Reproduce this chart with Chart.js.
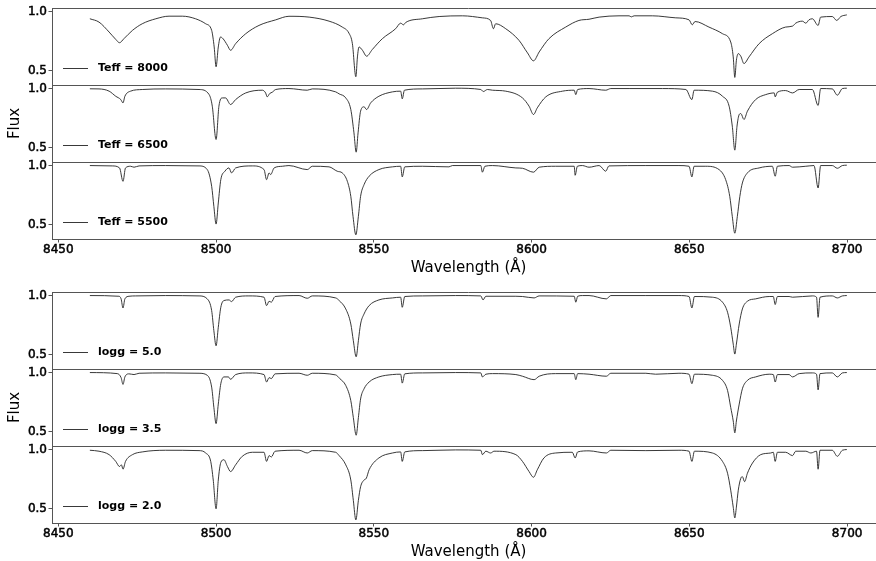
<!DOCTYPE html>
<html>
<head>
<meta charset="utf-8">
<script src="https://cdn.jsdelivr.net/npm/chart.js@4/dist/chart.umd.min.js"></script>
<style>
  html, body { margin: 0; padding: 0; background: #fff; overflow: hidden; width: 876px; height: 561px; }
  #fig { position: relative; width: 876px; height: 561px; overflow: hidden; }
  #fig canvas { position: absolute; left: 0; }
</style>
</head>
<body>
<div id="fig"></div>
<script>
// ---- Spectra: [wavelength (Å), normalised flux] ----
const teff8000 = [[8460.0,0.939],[8462.9,0.911],[8466.1,0.827],[8468.2,0.765],[8469.4,0.737],[8470.8,0.771],[8473.5,0.841],[8476.6,0.897],[8480.9,0.939],[8485.1,0.961],[8489.3,0.961],[8493.5,0.939],[8496.7,0.897],[8498.6,0.841],[8499.4,0.701],[8500.0,0.534],[8500.7,0.701],[8501.4,0.785],[8502.2,0.771],[8503.6,0.715],[8504.6,0.673],[8506.2,0.729],[8509.4,0.813],[8513.6,0.883],[8518.9,0.930],[8523.1,0.960],[8529.5,0.953],[8535.8,0.919],[8540.0,0.869],[8542.1,0.818],[8543.2,0.729],[8544.3,0.450],[8544.8,0.617],[8545.3,0.701],[8546.4,0.673],[8547.7,0.623],[8549.5,0.679],[8552.7,0.771],[8556.9,0.855],[8558.5,0.902],[8559.4,0.888],[8560.1,0.908],[8565.4,0.939],[8570.7,0.958],[8578.1,0.964],[8584.4,0.947],[8587.0,0.925],[8587.9,0.855],[8588.6,0.897],[8591.8,0.855],[8596.0,0.757],[8598.7,0.651],[8600.6,0.584],[8602.4,0.659],[8605.5,0.771],[8610.8,0.869],[8615.0,0.925],[8618.2,0.935],[8621.4,0.953],[8627.7,0.964],[8630.9,0.964],[8631.6,0.955],[8632.5,0.964],[8638.3,0.964],[8645.7,0.947],[8649.9,0.930],[8650.9,0.888],[8651.8,0.916],[8656.2,0.869],[8660.5,0.813],[8663.1,0.743],[8663.9,0.617],[8664.4,0.444],[8664.9,0.589],[8665.5,0.645],[8666.3,0.623],[8667.3,0.561],[8668.9,0.617],[8672.1,0.729],[8676.3,0.813],[8680.5,0.869],[8682.7,0.877],[8683.7,0.902],[8685.8,0.919],[8686.9,0.902],[8687.9,0.930],[8689.0,0.939],[8690.8,0.883],[8691.6,0.953],[8695.3,0.958],[8696.7,0.925],[8698.0,0.958],[8699.9,0.972]];

const teff6500 = [[8460.0,0.998],[8462.9,0.997],[8466.1,0.978],[8468.2,0.935],[8469.8,0.907],[8470.5,0.879],[8471.1,0.935],[8472.9,0.978],[8476.6,0.992],[8484.0,0.997],[8494.6,0.992],[8497.8,0.949],[8498.8,0.851],[8500.0,0.570],[8500.9,0.851],[8502.0,0.921],[8503.0,0.921],[8504.6,0.865],[8506.2,0.907],[8509.4,0.963],[8514.7,0.986],[8515.7,0.963],[8516.2,0.930],[8517.0,0.958],[8517.8,0.969],[8518.9,0.992],[8523.1,1.000],[8528.9,0.986],[8530.5,0.997],[8537.9,0.972],[8539.0,0.955],[8541.1,0.921],[8542.7,0.823],[8543.7,0.626],[8544.4,0.463],[8545.0,0.626],[8545.8,0.809],[8546.9,0.846],[8547.7,0.823],[8549.0,0.879],[8551.6,0.935],[8555.9,0.972],[8558.5,0.978],[8559.0,0.913],[8559.7,0.986],[8565.4,0.997],[8575.9,1.003],[8583.9,0.992],[8584.7,0.975],[8586.0,0.992],[8587.6,0.986],[8591.8,0.978],[8597.1,0.921],[8599.2,0.851],[8600.6,0.781],[8601.8,0.837],[8604.5,0.930],[8609.8,0.978],[8613.5,0.986],[8614.0,0.949],[8614.6,0.992],[8618.2,1.000],[8623.5,0.986],[8625.1,1.000],[8630.9,1.000],[8641.5,1.000],[8648.9,0.992],[8650.8,0.907],[8651.5,0.986],[8657.3,0.978],[8660.5,0.935],[8662.6,0.851],[8663.6,0.683],[8664.4,0.480],[8665.1,0.683],[8665.8,0.781],[8666.3,0.789],[8667.3,0.739],[8668.4,0.809],[8671.0,0.907],[8674.2,0.949],[8676.9,0.963],[8677.2,0.930],[8677.9,0.969],[8680.5,0.983],[8682.7,0.963],[8684.8,0.992],[8689.0,0.992],[8690.8,0.857],[8691.6,1.000],[8695.3,0.997],[8696.9,0.944],[8698.5,1.000],[8699.9,1.003]];

const teff5500 = [[8460.0,1.000],[8467.1,0.997],[8469.4,0.980],[8470.5,0.867],[8471.3,0.980],[8472.9,0.994],[8474.0,0.986],[8475.6,0.997],[8484.0,1.000],[8494.6,0.997],[8497.2,0.966],[8498.6,0.825],[8499.3,0.655],[8500.0,0.506],[8500.7,0.684],[8501.5,0.881],[8502.8,0.952],[8504.1,0.980],[8504.9,0.938],[8506.2,0.980],[8511.5,0.997],[8515.2,0.966],[8516.0,0.881],[8516.8,0.938],[8517.3,0.924],[8518.4,0.980],[8521.0,0.994],[8523.1,1.000],[8528.9,0.966],[8530.5,0.994],[8535.8,0.989],[8538.4,0.952],[8540.0,0.938],[8541.6,0.867],[8542.7,0.740],[8543.4,0.571],[8544.3,0.415],[8545.1,0.571],[8545.8,0.740],[8546.9,0.839],[8548.5,0.910],[8551.6,0.966],[8555.9,0.989],[8558.5,0.994],[8559.0,0.904],[8559.8,0.989],[8565.4,0.994],[8573.8,0.989],[8574.9,1.000],[8583.9,1.000],[8584.4,0.944],[8585.2,0.994],[8587.6,1.000],[8595.0,0.980],[8597.1,0.977],[8600.6,0.944],[8602.4,0.986],[8607.6,0.994],[8613.5,0.994],[8613.8,0.918],[8614.5,0.994],[8616.1,1.000],[8618.2,0.986],[8621.4,1.000],[8623.5,0.952],[8624.5,0.997],[8636.2,1.000],[8646.7,1.000],[8649.9,0.994],[8650.8,0.904],[8651.5,0.994],[8655.2,0.994],[8659.4,0.966],[8661.5,0.881],[8662.8,0.740],[8663.6,0.571],[8664.4,0.429],[8665.2,0.571],[8666.0,0.740],[8666.8,0.853],[8668.4,0.938],[8672.1,0.980],[8676.3,0.994],[8677.2,0.910],[8677.9,0.994],[8681.6,1.000],[8682.7,0.986],[8686.9,0.994],[8689.5,1.000],[8690.8,0.811],[8691.6,1.000],[8695.3,1.000],[8696.9,0.977],[8698.5,1.000],[8699.9,1.003]];

const logg50 = [[8460.0,1.000],[8469.2,0.994],[8469.9,0.972],[8470.5,0.895],[8471.1,0.972],[8472.4,0.994],[8474.5,0.997],[8484.0,1.000],[8494.6,0.997],[8497.2,0.972],[8498.6,0.873],[8499.3,0.703],[8500.0,0.576],[8500.7,0.732],[8501.5,0.901],[8502.5,0.958],[8504.1,0.963],[8504.9,0.949],[8506.2,0.986],[8510.4,0.997],[8515.2,0.986],[8516.0,0.915],[8516.8,0.952],[8517.5,0.944],[8518.7,0.992],[8526.3,1.000],[8528.9,0.977],[8530.5,0.997],[8537.9,0.980],[8539.0,0.958],[8541.1,0.887],[8542.7,0.760],[8543.5,0.619],[8544.4,0.483],[8545.1,0.619],[8545.8,0.760],[8546.9,0.845],[8548.5,0.915],[8551.6,0.963],[8555.9,0.980],[8558.5,0.986],[8559.0,0.901],[8559.8,0.992],[8565.4,0.997],[8575.9,1.000],[8583.9,0.997],[8584.6,0.963],[8585.5,0.994],[8595.0,0.994],[8597.1,0.992],[8600.8,0.980],[8602.4,0.997],[8613.5,0.994],[8614.0,0.944],[8614.6,0.994],[8616.1,1.000],[8618.2,1.000],[8623.7,0.972],[8625.1,1.000],[8636.2,1.000],[8646.7,1.000],[8649.9,0.992],[8650.8,0.895],[8651.6,0.992],[8657.3,0.986],[8660.5,0.944],[8662.1,0.859],[8663.1,0.732],[8663.9,0.590],[8664.4,0.506],[8664.9,0.590],[8665.8,0.760],[8666.8,0.887],[8668.4,0.952],[8671.0,0.972],[8675.3,0.992],[8676.6,0.992],[8677.2,0.924],[8677.9,0.992],[8681.6,0.992],[8682.7,0.986],[8689.0,0.997],[8690.3,0.986],[8690.8,0.816],[8691.4,0.986],[8695.3,0.997],[8696.9,0.980],[8698.5,0.997],[8699.9,1.000]];

const logg35 = [[8460.0,1.000],[8468.7,0.991],[8469.9,0.957],[8470.5,0.900],[8471.1,0.963],[8472.4,0.989],[8474.0,0.983],[8475.6,0.994],[8484.0,0.997],[8494.6,0.994],[8497.2,0.977],[8498.6,0.877],[8499.3,0.706],[8500.0,0.569],[8500.7,0.734],[8501.5,0.906],[8502.5,0.963],[8503.9,0.963],[8504.6,0.943],[8506.2,0.983],[8510.4,0.997],[8515.2,0.983],[8516.0,0.920],[8516.8,0.957],[8517.5,0.949],[8518.7,0.989],[8526.3,0.994],[8528.9,0.977],[8530.5,0.994],[8537.9,0.980],[8539.2,0.949],[8541.1,0.891],[8542.7,0.763],[8543.5,0.620],[8544.4,0.471],[8545.1,0.620],[8545.8,0.777],[8546.9,0.863],[8548.5,0.920],[8551.6,0.963],[8555.9,0.983],[8558.5,0.986],[8559.0,0.911],[8559.8,0.989],[8565.4,0.997],[8575.9,1.000],[8583.9,0.997],[8584.4,0.963],[8585.5,0.986],[8587.6,0.991],[8595.0,0.983],[8597.1,0.969],[8600.8,0.940],[8602.4,0.969],[8607.6,0.991],[8613.5,0.991],[8614.0,0.940],[8614.6,0.991],[8618.2,0.986],[8623.7,0.969],[8625.1,0.994],[8636.2,0.994],[8639.3,0.986],[8646.7,0.994],[8649.9,0.986],[8650.8,0.906],[8651.6,0.986],[8657.3,0.977],[8660.5,0.934],[8662.1,0.849],[8663.1,0.706],[8663.9,0.591],[8664.4,0.491],[8664.9,0.591],[8665.8,0.734],[8666.8,0.863],[8668.4,0.934],[8671.0,0.963],[8675.3,0.986],[8676.6,0.983],[8677.2,0.920],[8677.9,0.983],[8681.6,0.983],[8682.7,0.963],[8684.8,0.991],[8689.0,0.997],[8690.3,0.986],[8690.8,0.854],[8691.4,0.991],[8695.3,0.997],[8696.9,0.963],[8698.5,0.997],[8699.9,1.000]];

const logg20 = [[8460.0,0.994],[8462.9,0.986],[8466.1,0.957],[8468.2,0.900],[8469.4,0.857],[8470.0,0.871],[8470.5,0.834],[8471.3,0.900],[8473.5,0.957],[8476.6,0.980],[8484.0,0.994],[8494.6,0.991],[8496.7,0.971],[8498.3,0.900],[8499.1,0.743],[8500.0,0.500],[8500.7,0.743],[8501.5,0.891],[8502.5,0.914],[8503.6,0.857],[8504.6,0.814],[8506.2,0.871],[8508.3,0.943],[8511.5,0.977],[8515.2,0.977],[8516.0,0.900],[8516.8,0.949],[8517.5,0.937],[8518.7,0.986],[8526.3,0.994],[8528.9,0.971],[8530.5,0.991],[8537.9,0.977],[8539.0,0.949],[8541.1,0.871],[8542.7,0.743],[8543.5,0.571],[8544.3,0.406],[8545.1,0.571],[8545.8,0.686],[8546.9,0.743],[8547.6,0.757],[8548.5,0.829],[8551.6,0.929],[8555.9,0.971],[8558.5,0.980],[8559.0,0.900],[8559.8,0.980],[8565.4,0.991],[8575.9,0.997],[8583.9,0.994],[8584.4,0.957],[8585.5,0.986],[8587.0,0.971],[8588.1,0.986],[8595.0,0.957],[8597.1,0.900],[8599.2,0.814],[8600.6,0.766],[8601.8,0.829],[8603.9,0.929],[8607.6,0.971],[8612.9,0.977],[8613.8,0.929],[8614.6,0.980],[8618.2,0.989],[8623.7,0.971],[8625.1,0.994],[8636.2,0.991],[8646.7,0.994],[8649.9,0.986],[8650.8,0.900],[8651.6,0.986],[8657.3,0.971],[8660.5,0.900],[8662.1,0.800],[8663.1,0.657],[8663.9,0.514],[8664.4,0.423],[8664.9,0.514],[8665.5,0.657],[8666.3,0.757],[8666.8,0.771],[8667.5,0.729],[8668.4,0.800],[8670.0,0.886],[8672.6,0.957],[8675.8,0.971],[8676.6,0.977],[8677.2,0.900],[8677.9,0.977],[8680.5,0.977],[8682.7,0.949],[8683.7,0.986],[8686.9,0.986],[8688.5,0.971],[8690.3,0.986],[8690.8,0.834],[8691.4,0.994],[8695.3,0.994],[8696.9,0.943],[8698.5,0.994],[8699.9,1.000]];

// Panel labels and axis ticks
const teffLabels = ['Teff = 8000', 'Teff = 6500', 'Teff = 5500'];
const loggLabels = ['logg = 5.0', 'logg = 3.5', 'logg = 2.0'];
const xTickValues = [8450, 8500, 8550, 8600, 8650, 8700];
const yTickValues = [0.5, 1.0];
const xRange = [8448, 8712];
const yRange = [0.38, 1.03];

// ---- Layout ----
const PANEL_H = 77;      // height of one stacked panel
const PAD_TOP = 10;      // room above each panel for the top tick label
const X_AXIS_H = 40;     // tick labels + axis title under the last panel
const AXIS_W = 52;       // width reserved for y tick labels
const CANVAS_W = 886;    // axes run slightly past the page edge
const SPINE = '#555';
const LINE = '#222';

Chart.defaults.font.family = '"DejaVu Sans", Verdana, sans-serif';
Chart.defaults.color = '#000';

const groups = [
  { top: 8,   series: [teff8000, teff6500, teff5500], labels: teffLabels },
  { top: 292, series: [logg50, logg35, logg20],       labels: loggLabels }
];

// Top spine of each panel
const topSpine = {
  id: 'topSpine',
  afterDraw(chart) {
    const { ctx, chartArea } = chart;
    const y = Math.round(chartArea.top) + 0.5;
    ctx.save();
    ctx.strokeStyle = SPINE;
    ctx.lineWidth = 1;
    ctx.beginPath();
    ctx.moveTo(chartArea.left, y);
    ctx.lineTo(chartArea.right, y);
    ctx.stroke();
    ctx.restore();
  }
};

// Single-entry legend in the lower-left corner of a panel
const panelLegend = {
  id: 'panelLegend',
  afterDatasetsDraw(chart) {
    const { ctx, chartArea } = chart;
    const ds = chart.data.datasets[0];
    const y = Math.round(chartArea.bottom - 17.5) + 0.5;
    ctx.save();
    ctx.strokeStyle = ds.borderColor;
    ctx.lineWidth = ds.borderWidth;
    ctx.beginPath();
    ctx.moveTo(chartArea.left + 11, y);
    ctx.lineTo(chartArea.left + 36, y);
    ctx.stroke();
    ctx.fillStyle = '#000';
    ctx.font = 'bold 11px "DejaVu Sans", sans-serif';
    ctx.textBaseline = 'middle';
    ctx.textAlign = 'left';
    ctx.fillText(ds.label, chartArea.left + 46, y);
    ctx.restore();
  }
};

const fig = document.getElementById('fig');

groups.forEach(group => {
  group.series.forEach((spectrum, i) => {
    const isLast = i === group.series.length - 1;
    const isMiddle = i === 1;
    const canvas = document.createElement('canvas');
    const h = PAD_TOP + PANEL_H + (isLast ? X_AXIS_H : 1);
    canvas.width = CANVAS_W;
    canvas.height = h;
    canvas.style.width = CANVAS_W + 'px';
    canvas.style.height = h + 'px';
    canvas.style.top = (group.top + i * PANEL_H - PAD_TOP) + 'px';
    fig.appendChild(canvas);

    new Chart(canvas, {
      type: 'line',
      data: {
        datasets: [{
          label: group.labels[i],
          data: spectrum.map(([x, y]) => ({ x, y })),
          borderColor: LINE,
          borderWidth: 0.9,
          pointRadius: 0,
          fill: false,
          cubicInterpolationMode: 'monotone'
        }]
      },
      options: {
        responsive: false,
        animation: false,
        devicePixelRatio: 1,
        events: [],
        layout: { padding: { top: PAD_TOP, right: 1, bottom: isLast ? 0 : 1, left: 0 } },
        plugins: { legend: { display: false }, tooltip: { enabled: false } },
        scales: {
          x: {
            type: 'linear',
            min: xRange[0],
            max: xRange[1],
            afterBuildTicks: s => { s.ticks = xTickValues.map(v => ({ value: v })); },
            afterFit: s => {
              s.height = isLast ? X_AXIS_H : 0;
              s.paddingLeft = 0;
              s.paddingRight = 0;
            },
            grid: { display: isLast, drawOnChartArea: false, drawTicks: true, tickLength: 3.5, color: SPINE },
            border: { display: true, color: SPINE, width: 1 },
            ticks: {
              display: isLast,
              padding: 1,
              maxRotation: 0,
              autoSkip: false,
              font: { size: 12, lineHeight: 1 },
              textStrokeColor: '#000',
              textStrokeWidth: 0.5,
              callback: v => String(v)
            },
            title: {
              display: isLast,
              text: 'Wavelength (Å)',
              font: { size: 15 },
              padding: { top: 0, bottom: 2 }
            }
          },
          y: {
            min: yRange[0],
            max: yRange[1],
            afterBuildTicks: s => { s.ticks = yTickValues.map(v => ({ value: v })); },
            afterFit: s => {
              s.width = AXIS_W;
              s.paddingTop = 0;
              s.paddingBottom = 0;
            },
            grid: { drawOnChartArea: false, drawTicks: true, tickLength: 3.5, color: SPINE },
            border: { display: true, color: SPINE, width: 1 },
            ticks: {
              padding: 1.5,
              font: { size: 12 },
              textStrokeColor: '#000',
              textStrokeWidth: 0.5,
              callback: v => v.toFixed(1)
            },
            title: {
              display: isMiddle,
              text: 'Flux',
              font: { size: 15 },
              padding: { top: 6, bottom: 0 }
            }
          }
        }
      },
      plugins: [topSpine, panelLegend]
    });
  });
});
</script>
</body>
</html>
